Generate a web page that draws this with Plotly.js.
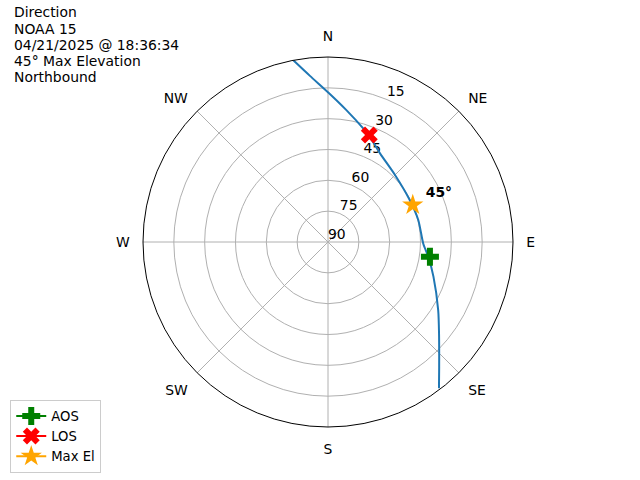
<!DOCTYPE html>
<html>
<head>
<meta charset="utf-8">
<script src="https://cdn.plot.ly/plotly-3.0.1.min.js"></script>
<style>html,body{margin:0;padding:0;background:#fff;}#chart{width:640px;height:480px;}</style>
</head>
<body>
<div id="chart"></div>
<script>
// Pass track: azimuth (deg, clockwise from N) and elevation (deg)
const trackAz = [349.2, 353.8, 0.3, 7.7, 17.2, 21.1, 30.4, 45.0, 62.8, 76.3, 91.2, 98.3, 108.2, 121.7, 129.4, 138.3, 142.8];
const trackEl = [0.0, 8.7, 17.5, 25.0, 32.1, 34.5, 40.0, 43.9, 45.3, 44.8, 43.6, 40.7, 36.0, 27.0, 20.1, 8.7, 0.7];

const aosAz = [98.2];  const aosEl = [39.9];
const losAz = [21.1];  const losEl = [34.2];
const maxAz = [66.4];  const maxEl = [45.0];
const maxLabel = ["\u00a0\u00a0<b>45°</b>"];

const dirVals = [0, 45, 90, 135, 180, 225, 270, 315];
const dirText = ["N", "NE", "E", "SE", "S", "SW", "W", "NW"];
const elTickVals = [90, 75, 60, 45, 30, 15];

const titleLines = ["Direction", "NOAA 15", "04/21/2025 @ 18:36:34", "45° Max Elevation", "Northbound"];

const FS = 13.9;
const RLABEL_ANGLE = 22.5;
const toR = els => els.map(e => 90 - e);

const traces = [
  {type: "scatterpolar", theta: elTickVals.map(() => RLABEL_ANGLE), r: toR(elTickVals),
   mode: "text", text: elTickVals.map(String), textposition: "top right",
   textfont: {family: "DejaVu Sans", size: FS, color: "black"}, showlegend: false, hoverinfo: "skip"},
  {type: "scatterpolar", theta: trackAz, r: toR(trackEl), mode: "lines",
   line: {color: "#1f77b4", width: 2, shape: "spline", smoothing: 0.7}, showlegend: false, hoverinfo: "skip"},
  {type: "scatterpolar", theta: aosAz, r: toR(aosEl), mode: "lines+markers", name: "AOS",
   marker: {symbol: "cross", size: 15, color: "green"}, line: {color: "green", width: 2}},
  {type: "scatterpolar", theta: losAz, r: toR(losEl), mode: "lines+markers", name: "LOS",
   marker: {symbol: "x", size: 15, color: "red"}, line: {color: "red", width: 2}},
  {type: "scatterpolar", theta: maxAz, r: toR(maxEl), mode: "lines+markers", name: "Max El",
   marker: {symbol: "star", size: 16, color: "orange"}, line: {color: "orange", width: 2}},
  {type: "scatterpolar", theta: maxAz, r: toR(maxEl), mode: "markers+text", text: maxLabel,
   marker: {size: 5, opacity: 0}, textposition: "top right",
   textfont: {family: "DejaVu Sans", size: FS, color: "black"},
   showlegend: false, hoverinfo: "skip"}
];

const titleAnnotations = titleLines.map((t, i) => ({
  xref: "paper", yref: "paper", x: 12/640, y: 1 - (12.5 + i * 16.2)/480,
  xanchor: "left", yanchor: "middle", showarrow: false, text: t, font: {size: FS}
}));

const layout = {
  width: 640, height: 480,
  margin: {l: 0, r: 0, t: 0, b: 0, autoexpand: false},
  paper_bgcolor: "white",
  font: {family: "DejaVu Sans", size: FS, color: "black"},
  showlegend: true,
  legend: {x: 0.016, y: 0.015, xanchor: "left", yanchor: "bottom", tracegroupgap: 0,
           bgcolor: "white", bordercolor: "#cccccc", borderwidth: 1, font: {size: 13.2}},
  annotations: titleAnnotations,
  polar: {
    domain: {x: [143/640, 513/640], y: [53/480, 423/480]},
    bgcolor: "white",
    angularaxis: {direction: "clockwise", rotation: 90, tickmode: "array", tickvals: dirVals, ticktext: dirText,
      showline: true, linecolor: "black", linewidth: 1, gridcolor: "#b0b0b0", gridwidth: 1,
      ticks: "outside", ticklen: 10, tickcolor: "rgba(0,0,0,0)", tickfont: {size: FS}},
    radialaxis: {range: [0, 90], tickmode: "array", tickvals: toR(elTickVals), showticklabels: false,
      showline: false, ticks: "", gridcolor: "#b0b0b0", gridwidth: 1, angle: 67.5}
  }
};

Plotly.newPlot("chart", traces, layout, {staticPlot: true});
</script>
</body>
</html>
